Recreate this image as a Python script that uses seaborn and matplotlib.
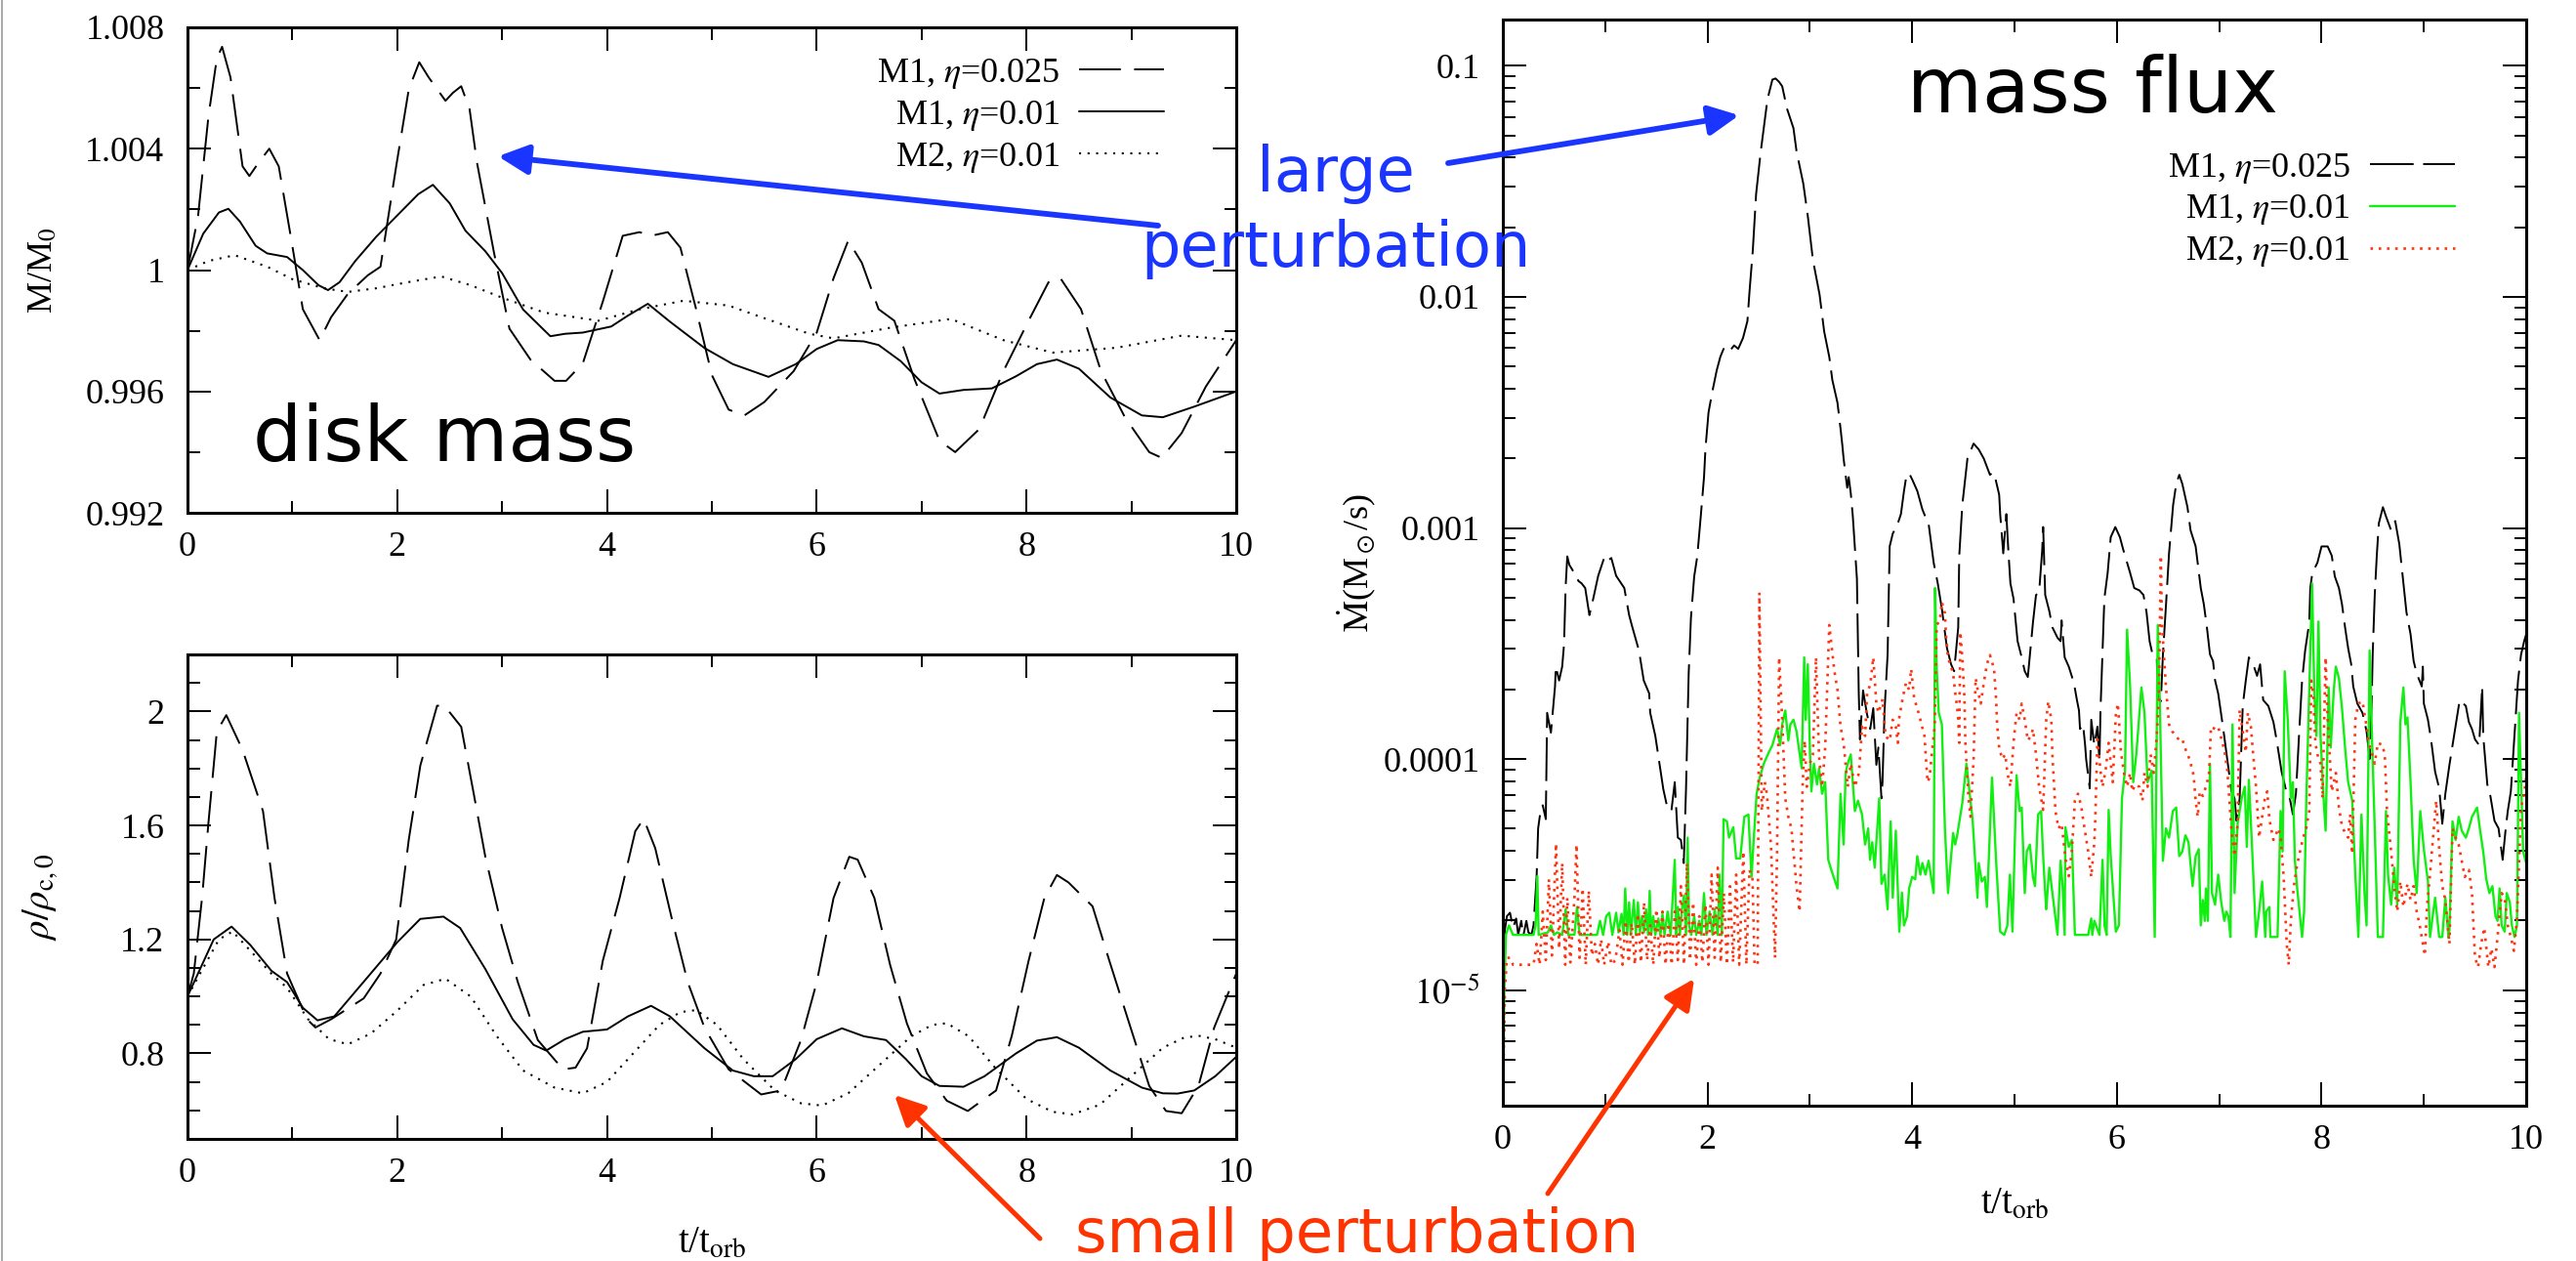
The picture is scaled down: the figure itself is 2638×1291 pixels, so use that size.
import numpy as np
import matplotlib
matplotlib.use("Agg")
import matplotlib.pyplot as plt
import seaborn as sns
from matplotlib.patches import FancyArrowPatch
from matplotlib.lines import Line2D
from matplotlib.ticker import MultipleLocator, FixedLocator, FuncFormatter, LogLocator, NullFormatter

W, H, DPI = 2638, 1291, 100

# ---------------- disk mass M/M0 versus t/t_orb ----------------
mass_m1_025 = [(0.0, 1.0), (0.1, 1.00176), (0.2, 1.00507), (0.28, 1.00698), (0.33, 1.00736), (0.41, 1.00635),
               (0.525, 1.00342), (0.59, 1.0031), (0.68, 1.00355), (0.78, 1.004), (0.87, 1.00342), (0.99, 1.001),
               (1.10, 0.99871), (1.26, 0.99769), (1.37, 0.99845), (1.53, 0.99922), (1.72, 0.99983), (1.84, 1.00011),
               (1.99, 1.00342), (2.11, 1.00596), (2.21, 1.00685), (2.30, 1.00635), (2.46, 1.00558), (2.53, 1.00584),
               (2.61, 1.00606), (2.69, 1.0053), (2.76, 1.00355), (2.92, 1.00062), (3.07, 0.99807), (3.27, 0.99705),
               (3.5, 0.99635), (3.61, 0.99635), (3.77, 0.99693), (3.96, 0.99896), (4.15, 1.00113), (4.31, 1.00125),
               (4.42, 1.00113), (4.58, 1.00125), (4.7, 1.00074), (4.85, 0.99871), (5.0, 0.99654), (5.16, 0.9954),
               (5.31, 0.99521), (5.5, 0.99565), (5.78, 0.99667), (6.0, 0.99794), (6.16, 0.99973), (6.30, 1.00097),
               (6.43, 1.00024), (6.59, 0.99871), (6.74, 0.99833), (6.93, 0.99642), (7.17, 0.99438), (7.32, 0.994),
               (7.55, 0.99476), (7.78, 0.99667), (8.02, 0.99833), (8.21, 0.9996), (8.32, 0.99975), (8.52, 0.99871),
               (8.71, 0.99667), (8.94, 0.99514), (9.17, 0.994), (9.29, 0.99381), (9.48, 0.99463), (9.71, 0.99616),
               (10.0, 0.99769)]
mass_m1_010 = [(0.0, 1.0), (0.15, 1.0012), (0.30, 1.0019), (0.39, 1.00202), (0.5, 1.0016), (0.65, 1.0008),
               (0.76, 1.00055), (0.95, 1.00043), (1.1, 1.0), (1.25, 0.9995), (1.34, 0.99934), (1.45, 0.9996),
               (1.6, 1.0003), (1.8, 1.0011), (2.0, 1.0018), (2.2, 1.0025), (2.34, 1.00281), (2.5, 1.0022),
               (2.65, 1.0013), (2.84, 1.00062), (3.0, 0.9999), (3.2, 0.9987), (3.46, 0.99782), (3.6, 0.9979),
               (3.77, 0.99794), (4.04, 0.99814), (4.2, 0.9985), (4.39, 0.99889), (4.6, 0.9983), (4.93, 0.99743),
               (5.2, 0.9969), (5.54, 0.99648), (5.8, 0.9969), (6.0, 0.9974), (6.2, 0.99769), (6.45, 0.99765),
               (6.59, 0.99753), (6.8, 0.997), (7.0, 0.9963), (7.17, 0.99593), (7.4, 0.99605), (7.67, 0.9961),
               (7.9, 0.9965), (8.1, 0.9969), (8.29, 0.99705), (8.5, 0.99675), (8.8, 0.9958), (9.1, 0.99521),
               (9.3, 0.99515), (9.6, 0.9955), (10.0, 0.996)]
mass_m2_010 = [(0.0, 1.0), (0.2, 1.0003), (0.45, 1.00049), (0.76, 1.00011), (1.0, 0.9997), (1.3, 0.9994),
               (1.53, 0.99928), (1.8, 0.9994), (2.1, 0.9996), (2.42, 0.99979), (2.7, 0.9995), (3.0, 0.99909),
               (3.4, 0.9986), (3.92, 0.99833), (4.3, 0.9987), (4.73, 0.99899), (5.16, 0.99883), (5.47, 0.99845),
               (5.93, 0.9979), (6.16, 0.99775), (6.7, 0.9981), (7.28, 0.99839), (7.78, 0.99769), (8.25, 0.99728),
               (8.86, 0.99744), (9.48, 0.99784), (10.0, 0.99769)]

# ---------------- central density rho/rho_c,0 ----------------
rho_m1_025 = [(0.0, 1.0), (0.06, 1.08), (0.14, 1.35), (0.2, 1.61), (0.28, 1.93), (0.37, 1.987), (0.525, 1.865),
              (0.72, 1.65), (0.83, 1.345), (0.95, 1.08), (1.14, 0.92), (1.22, 0.891), (1.37, 0.92), (1.68, 0.993),
              (1.84, 1.08), (1.99, 1.2), (2.11, 1.55), (2.22, 1.81), (2.38, 2.02), (2.45, 2.02), (2.61, 1.946),
              (2.73, 1.71), (2.84, 1.49), (3.0, 1.24), (3.15, 1.05), (3.34, 0.847), (3.58, 0.744), (3.70, 0.75),
              (3.81, 0.818), (3.96, 1.125), (4.12, 1.345), (4.27, 1.58), (4.35, 1.623), (4.46, 1.52), (4.62, 1.27),
              (4.77, 1.05), (4.93, 0.89), (5.16, 0.744), (5.47, 0.656), (5.66, 0.67), (5.85, 0.847), (6.0, 1.05),
              (6.16, 1.345), (6.31, 1.49), (6.39, 1.48), (6.55, 1.345), (6.70, 1.11), (6.86, 0.905), (7.05, 0.73),
              (7.24, 0.634), (7.44, 0.598), (7.71, 0.67), (7.86, 0.862), (8.02, 1.125), (8.17, 1.345),
              (8.29, 1.426), (8.4, 1.40), (8.63, 1.316), (8.79, 1.125), (8.98, 0.905), (9.17, 0.686), (9.33, 0.598),
              (9.48, 0.59), (9.64, 0.686), (9.79, 0.891), (10.0, 1.08)]
rho_m1_010 = [(0.0, 1.0), (0.1, 1.08), (0.25, 1.2), (0.42, 1.245), (0.6, 1.18), (0.8, 1.09), (0.95, 1.05),
              (1.1, 0.96), (1.24, 0.916), (1.4, 0.93), (1.7, 1.06), (2.0, 1.19), (2.22, 1.272), (2.44, 1.28),
              (2.6, 1.24), (2.84, 1.096), (3.1, 0.92), (3.3, 0.83), (3.42, 0.81), (3.6, 0.85), (3.77, 0.876),
              (4.0, 0.884), (4.2, 0.93), (4.42, 0.967), (4.6, 0.93), (4.93, 0.818), (5.2, 0.74), (5.4, 0.72),
              (5.58, 0.72), (5.8, 0.78), (6.0, 0.85), (6.24, 0.888), (6.45, 0.86), (6.66, 0.847), (6.85, 0.78),
              (7.0, 0.72), (7.17, 0.686), (7.40, 0.683), (7.6, 0.72), (7.9, 0.80), (8.1, 0.845), (8.29, 0.857),
              (8.5, 0.82), (8.8, 0.74), (9.1, 0.68), (9.3, 0.66), (9.44, 0.659), (9.6, 0.67), (9.8, 0.72),
              (10.0, 0.788)]
rho_m2_010 = [(0.0, 1.0), (0.15, 1.1), (0.3, 1.2), (0.43, 1.228), (0.6, 1.16), (0.8, 1.08), (0.95, 1.03),
              (1.15, 0.92), (1.35, 0.85), (1.53, 0.832), (1.75, 0.87), (2.0, 0.95), (2.25, 1.04), (2.46, 1.062),
              (2.7, 1.0), (2.95, 0.86), (3.2, 0.74), (3.5, 0.68), (3.77, 0.66), (4.0, 0.70), (4.25, 0.80),
              (4.5, 0.90), (4.7, 0.945), (4.85, 0.952), (5.05, 0.90), (5.3, 0.78), (5.6, 0.67), (5.85, 0.625),
              (6.05, 0.617), (6.3, 0.66), (6.6, 0.76), (6.9, 0.86), (7.1, 0.90), (7.24, 0.906), (7.45, 0.86),
              (7.7, 0.75), (8.0, 0.64), (8.25, 0.595), (8.44, 0.586), (8.7, 0.62), (9.0, 0.72), (9.3, 0.82),
              (9.5, 0.855), (9.64, 0.862), (9.8, 0.85), (10.0, 0.82)]

# ---------------- mass flux, stored as log10(Mdot / (Msun/s)) ----------------
flux_m1_025 = [(0.0, -5.5), (0.01, -5.0), (0.02, -4.74), (0.04, -4.68), (0.07, -4.665), (0.10, -4.73), (0.13, -4.69),
               (0.15, -4.76), (0.18, -4.70), (0.20, -4.765), (0.23, -4.70), (0.25, -4.75), (0.28, -4.76), (0.30, -4.72),
               (0.33, -4.51), (0.345, -4.30), (0.37, -4.22), (0.39, -4.20), (0.42, -4.26), (0.433, -3.80), (0.47, -3.886),
               (0.51, -3.686), (0.518, -3.60), (0.55, -3.66), (0.58, -3.60), (0.598, -3.504), (0.614, -3.25), (0.63, -3.123),
               (0.65, -3.16), (0.678, -3.18), (0.74, -3.23), (0.77, -3.24), (0.805, -3.26), (0.846, -3.377), (0.884, -3.305),
               (0.932, -3.207), (0.995, -3.123), (1.03, -3.14), (1.06, -3.13), (1.107, -3.207), (1.187, -3.26),
               (1.234, -3.377), (1.266, -3.43), (1.33, -3.53), (1.377, -3.66), (1.43, -3.716), (1.44, -3.80), (1.49, -3.90),
               (1.537, -4.04), (1.568, -4.13), (1.60, -4.195), (1.647, -4.225), (1.68, -4.10), (1.71, -4.34), (1.74, -4.35),
               (1.768, -4.45), (1.79, -4.13), (1.816, -3.63), (1.838, -3.39), (1.87, -3.21), (1.90, -3.123), (1.934, -2.95),
               (1.966, -2.78), (1.98, -2.657), (2.01, -2.50), (2.045, -2.415), (2.09, -2.318), (2.125, -2.26),
               (2.157, -2.225), (2.19, -2.24), (2.22, -2.233), (2.26, -2.21), (2.30, -2.225), (2.347, -2.178),
               (2.39, -2.105), (2.41, -1.98), (2.443, -1.797), (2.475, -1.555), (2.52, -1.372), (2.586, -1.145),
               (2.634, -1.06), (2.665, -1.055), (2.70, -1.07), (2.73, -1.089), (2.777, -1.186), (2.84, -1.27), (2.87, -1.37),
               (2.936, -1.51), (2.98, -1.65), (3.03, -1.84), (3.095, -1.99), (3.14, -2.15), (3.19, -2.26), (3.22, -2.36),
               (3.27, -2.458), (3.30, -2.57), (3.318, -2.644), (3.33, -2.70), (3.365, -2.826), (3.38, -2.78), (3.40, -2.85),
               (3.42, -2.95), (3.46, -3.22), (3.478, -3.716), (3.49, -3.915), (3.52, -3.703), (3.556, -3.80), (3.59, -3.87),
               (3.62, -3.78), (3.65, -4.025), (3.67, -3.95), (3.70, -4.17), (3.71, -4.10), (3.73, -3.79), (3.76, -3.547),
               (3.77, -3.305), (3.78, -3.08), (3.81, -3.025), (3.86, -2.98), (3.89, -2.94), (3.92, -2.84), (3.94, -2.784),
               (3.97, -2.763), (4.00, -2.79), (4.05, -2.84), (4.10, -2.92), (4.13, -2.953), (4.16, -2.98), (4.21, -3.15),
               (4.25, -3.24), (4.29, -3.35), (4.34, -3.52), (4.38, -3.59), (4.41, -3.62), (4.45, -3.43), (4.46, -3.12),
               (4.49, -2.90), (4.54, -2.70), (4.60, -2.635), (4.65, -2.66), (4.70, -2.70), (4.76, -2.77), (4.79, -2.76),
               (4.81, -2.78), (4.85, -2.856), (4.86, -2.94), (4.89, -3.11), (4.92, -2.94), (4.94, -3.10), (4.96, -3.24),
               (4.99, -3.305), (5.03, -3.49), (5.07, -3.56), (5.10, -3.62), (5.13, -3.645), (5.146, -3.57), (5.18, -3.41),
               (5.21, -3.29), (5.24, -3.28), (5.27, -3.10), (5.28, -2.996), (5.29, -3.15), (5.30, -3.29), (5.34, -3.36),
               (5.37, -3.43), (5.42, -3.475), (5.45, -3.49), (5.46, -3.40), (5.49, -3.56), (5.53, -3.60), (5.58, -3.67),
               (5.61, -3.745), (5.63, -3.79), (5.64, -3.87), (5.67, -3.85), (5.69, -3.94), (5.70, -4.00), (5.735, -4.127),
               (5.75, -3.83), (5.78, -3.94), (5.81, -3.86), (5.83, -4.01), (5.84, -3.79), (5.86, -3.53), (5.878, -3.305),
               (5.91, -3.195), (5.94, -3.04), (5.985, -2.996), (6.03, -3.04), (6.06, -3.09), (6.10, -3.15), (6.13, -3.195),
               (6.17, -3.26), (6.22, -3.27), (6.26, -3.29), (6.29, -3.365), (6.32, -3.49), (6.35, -3.55), (6.39, -3.56),
               (6.40, -3.72), (6.43, -3.75), (6.45, -3.55), (6.48, -3.335), (6.51, -3.11), (6.55, -2.90), (6.58, -2.81),
               (6.61, -2.77), (6.64, -2.81), (6.69, -2.91), (6.72, -3.01), (6.77, -3.08), (6.82, -3.26), (6.85, -3.33),
               (6.88, -3.43), (6.91, -3.547), (6.94, -3.576), (6.96, -3.66), (6.99, -3.716), (7.04, -3.87), (7.09, -4.04),
               (7.12, -4.14), (7.15, -4.17), (7.17, -4.267), (7.20, -4.17), (7.23, -3.77), (7.26, -3.66), (7.29, -3.56),
               (7.34, -3.60), (7.37, -3.64), (7.40, -3.59), (7.43, -3.745), (7.48, -3.77), (7.53, -3.84), (7.56, -3.915),
               (7.58, -3.97), (7.61, -4.055), (7.64, -4.11), (7.66, -4.15), (7.69, -4.17), (7.72, -4.24), (7.75, -4.15),
               (7.78, -3.90), (7.81, -3.66), (7.84, -3.53), (7.88, -3.41), (7.89, -3.26), (7.91, -3.195), (7.96, -3.15),
               (8.00, -3.08), (8.06, -3.08), (8.10, -3.12), (8.13, -3.21), (8.17, -3.26), (8.20, -3.33), (8.23, -3.43),
               (8.26, -3.52), (8.29, -3.59), (8.31, -3.686), (8.35, -3.76), (8.40, -3.80), (8.44, -3.88), (8.47, -4.00),
               (8.49, -3.75), (8.50, -3.547), (8.52, -3.29), (8.54, -3.12), (8.56, -2.98), (8.60, -2.91), (8.63, -2.95),
               (8.68, -3.01), (8.72, -2.97), (8.76, -3.07), (8.79, -3.195), (8.83, -3.365), (8.87, -3.46), (8.90, -3.576),
               (8.93, -3.63), (8.98, -3.686), (8.99, -3.60), (9.00, -3.76), (9.04, -3.83), (9.07, -3.915), (9.11, -4.055),
               (9.15, -4.127), (9.18, -4.28), (9.21, -4.15), (9.25, -4.025), (9.31, -3.856), (9.35, -3.745), (9.41, -3.77),
               (9.44, -3.84), (9.47, -3.87), (9.50, -3.915), (9.54, -3.94), (9.57, -3.686), (9.58, -3.90), (9.62, -4.11),
               (9.65, -4.16), (9.69, -4.267), (9.73, -4.30), (9.77, -4.436), (9.80, -4.30), (9.82, -4.225), (9.85, -4.14),
               (9.92, -3.66), (9.95, -3.547), (9.98, -3.49), (10.0, -3.46)]
flux_m1_010 = [(0.0, -5.5), (0.015, -5.0), (0.03, -4.76), (0.06, -4.72), (0.10, -4.761), (0.20, -4.761), (0.30, -4.761),
               (0.32, -4.72), (0.337, -4.507), (0.35, -4.761), (0.44, -4.75), (0.47, -4.72), (0.50, -4.761), (0.53, -4.75),
               (0.58, -4.761), (0.614, -4.65), (0.64, -4.761), (0.70, -4.76), (0.725, -4.64), (0.75, -4.761), (0.85, -4.761),
               (0.92, -4.761), (0.95, -4.70), (0.98, -4.761), (1.01, -4.68), (1.04, -4.665), (1.07, -4.761), (1.107, -4.665),
               (1.13, -4.75), (1.16, -4.67), (1.18, -4.761), (1.196, -4.56), (1.215, -4.761), (1.234, -4.62), (1.25, -4.761),
               (1.28, -4.61), (1.30, -4.761), (1.32, -4.62), (1.34, -4.75), (1.36, -4.68), (1.38, -4.75), (1.40, -4.65),
               (1.42, -4.761), (1.435, -4.57), (1.45, -4.761), (1.47, -4.68), (1.49, -4.761), (1.52, -4.69), (1.54, -4.761),
               (1.56, -4.67), (1.58, -4.761), (1.61, -4.66), (1.64, -4.761), (1.68, -4.436), (1.695, -4.761), (1.71, -4.64),
               (1.73, -4.761), (1.75, -4.65), (1.77, -4.59), (1.79, -4.761), (1.806, -4.34), (1.82, -4.72), (1.84, -4.761),
               (1.87, -4.68), (1.89, -4.761), (1.92, -4.70), (1.94, -4.761), (1.966, -4.58), (1.99, -4.761), (2.02, -4.66),
               (2.05, -4.761), (2.07, -4.65), (2.10, -4.761), (2.118, -4.50), (2.14, -4.761), (2.157, -4.26), (2.19, -4.27),
               (2.21, -4.34), (2.252, -4.295), (2.28, -4.43), (2.32, -4.43), (2.36, -4.25), (2.40, -4.24), (2.43, -4.51),
               (2.45, -4.36), (2.48, -4.15), (2.51, -4.08), (2.55, -4.02), (2.60, -3.97), (2.634, -3.94), (2.68, -3.87),
               (2.71, -3.94), (2.73, -3.85), (2.76, -3.79), (2.79, -3.92), (2.81, -3.85), (2.84, -3.83), (2.87, -3.88),
               (2.92, -4.04), (2.945, -3.56), (2.96, -3.83), (2.98, -3.59), (3.00, -3.95), (3.015, -4.14), (3.04, -4.02),
               (3.07, -4.11), (3.09, -4.04), (3.12, -4.15), (3.15, -4.10), (3.18, -4.436), (3.21, -4.48), (3.24, -4.52),
               (3.27, -4.56), (3.30, -4.15), (3.33, -4.37), (3.35, -4.06), (3.37, -4.02), (3.40, -3.98), (3.42, -4.10),
               (3.44, -4.225), (3.47, -4.18), (3.51, -4.24), (3.54, -4.37), (3.57, -4.30), (3.588, -4.436), (3.61, -4.36),
               (3.634, -4.47), (3.678, -4.17), (3.70, -4.54), (3.73, -4.50), (3.76, -4.65), (3.77, -4.50), (3.79, -4.27),
               (3.81, -4.60), (3.84, -4.31), (3.874, -4.747), (3.90, -4.578), (3.92, -4.72), (3.95, -4.68), (3.97, -4.56),
               (4.00, -4.51), (4.03, -4.52), (4.05, -4.42), (4.08, -4.50), (4.10, -4.45), (4.13, -4.50), (4.16, -4.44),
               (4.21, -4.58), (4.224, -3.26), (4.24, -3.61), (4.26, -3.80), (4.29, -3.85), (4.32, -4.30), (4.35, -4.58),
               (4.40, -4.32), (4.42, -4.37), (4.44, -4.33), (4.49, -4.19), (4.53, -4.02), (4.56, -4.14), (4.59, -4.26),
               (4.638, -4.60), (4.65, -4.45), (4.68, -4.53), (4.71, -4.51), (4.73, -4.64), (4.78, -4.08), (4.82, -4.44),
               (4.86, -4.747), (4.90, -4.761), (4.93, -4.72), (4.955, -4.50), (4.98, -4.747), (5.02, -4.07), (5.05, -4.225),
               (5.07, -4.21), (5.10, -4.58), (5.12, -4.40), (5.15, -4.37), (5.18, -4.51), (5.20, -4.55), (5.23, -4.24),
               (5.26, -4.225), (5.28, -4.42), (5.30, -4.58), (5.31, -4.65), (5.34, -4.47), (5.42, -4.76), (5.45, -4.44),
               (5.47, -4.55), (5.49, -4.761), (5.497, -4.295), (5.53, -4.38), (5.56, -4.35), (5.59, -4.761), (5.65, -4.761),
               (5.72, -4.761), (5.75, -4.69), (5.76, -4.761), (5.78, -4.70), (5.83, -4.761), (5.86, -4.436), (5.88, -4.72),
               (5.90, -4.761), (5.92, -4.22), (5.94, -4.42), (5.99, -4.747), (6.02, -4.72), (6.05, -4.17), (6.08, -4.05),
               (6.10, -3.44), (6.13, -3.69), (6.16, -4.10), (6.19, -3.98), (6.24, -3.69), (6.27, -3.80), (6.30, -4.10),
               (6.34, -4.05), (6.37, -4.77), (6.40, -3.42), (6.42, -3.76), (6.45, -4.44), (6.48, -4.30), (6.51, -4.34),
               (6.547, -4.225), (6.58, -4.21), (6.61, -4.42), (6.64, -4.40), (6.67, -4.33), (6.70, -4.36), (6.74, -4.55),
               (6.77, -4.42), (6.80, -4.39), (6.82, -4.72), (6.84, -4.61), (6.86, -4.70), (6.87, -4.56), (6.89, -4.70),
               (6.91, -4.02), (6.93, -4.58), (6.96, -4.63), (6.99, -4.50), (7.02, -4.62), (7.05, -4.70), (7.07, -4.66),
               (7.09, -4.68), (7.11, -4.77), (7.13, -3.85), (7.15, -4.58), (7.18, -4.28), (7.22, -4.17), (7.25, -4.12),
               (7.27, -4.38), (7.29, -4.09), (7.32, -4.37), (7.36, -4.77), (7.39, -4.66), (7.42, -4.53), (7.45, -4.77),
               (7.46, -4.66), (7.49, -4.64), (7.50, -4.77), (7.57, -4.77), (7.60, -4.225), (7.62, -4.40), (7.64, -3.62),
               (7.67, -3.83), (7.70, -4.17), (7.72, -4.10), (7.74, -4.44), (7.76, -4.55), (7.79, -4.68), (7.81, -4.77),
               (7.83, -4.66), (7.85, -4.20), (7.88, -3.70), (7.908, -3.24), (7.93, -3.72), (7.95, -3.90), (7.97, -3.405),
               (7.99, -3.90), (8.02, -4.17), (8.04, -4.31), (8.07, -3.69), (8.09, -3.95), (8.12, -3.70), (8.14, -3.60),
               (8.17, -3.65), (8.20, -3.78), (8.23, -3.95), (8.26, -4.10), (8.30, -4.18), (8.33, -4.50), (8.36, -4.77),
               (8.39, -4.24), (8.42, -4.58), (8.44, -4.72), (8.47, -3.53), (8.49, -3.86), (8.52, -4.30), (8.55, -4.77),
               (8.60, -4.77), (8.63, -4.225), (8.65, -4.50), (8.68, -4.63), (8.71, -4.47), (8.74, -4.63), (8.77, -3.84),
               (8.80, -3.69), (8.82, -3.85), (8.84, -3.82), (8.87, -4.10), (8.90, -4.436), (8.93, -4.58), (8.965, -4.225),
               (9.00, -4.39), (9.04, -4.53), (9.06, -4.77), (9.11, -4.60), (9.15, -4.77), (9.18, -4.77), (9.21, -4.60),
               (9.24, -4.77), (9.25, -4.74), (9.28, -4.27), (9.31, -4.35), (9.34, -4.25), (9.37, -4.31), (9.41, -4.34),
               (9.44, -4.30), (9.47, -4.25), (9.52, -4.21), (9.55, -4.31), (9.58, -4.40), (9.61, -4.52), (9.64, -4.58),
               (9.67, -4.55), (9.70, -4.68), (9.72, -4.70), (9.74, -4.56), (9.76, -4.72), (9.79, -4.747), (9.81, -4.58),
               (9.84, -4.62), (9.86, -4.72), (9.886, -4.77), (9.91, -4.72), (9.93, -3.80), (9.95, -4.10), (9.97, -4.40),
               (10.0, -4.45)]
flux_m2_010 = [(0.0, -5.5), (0.02, -5.0), (0.04, -4.86), (0.07, -4.86), (0.10, -4.89), (0.20, -4.89), (0.30, -4.89),
               (0.33, -4.80), (0.36, -4.89), (0.39, -4.66), (0.42, -4.87), (0.45, -4.52), (0.48, -4.85), (0.52, -4.366),
               (0.55, -4.82), (0.58, -4.45), (0.61, -4.89), (0.63, -4.60), (0.66, -4.88), (0.70, -4.60), (0.72, -4.37),
               (0.75, -4.86), (0.78, -4.56), (0.81, -4.89), (0.84, -4.57), (0.87, -4.85), (0.90, -4.80), (0.93, -4.89),
               (0.96, -4.78), (0.99, -4.89), (1.03, -4.79), (1.06, -4.89), (1.10, -4.87), (1.14, -4.74), (1.17, -4.89),
               (1.20, -4.70), (1.23, -4.88), (1.26, -4.71), (1.29, -4.89), (1.32, -4.67), (1.35, -4.88), (1.38, -4.62),
               (1.41, -4.87), (1.44, -4.72), (1.47, -4.89), (1.50, -4.65), (1.53, -4.86), (1.56, -4.66), (1.59, -4.89),
               (1.62, -4.71), (1.65, -4.89), (1.68, -4.66), (1.71, -4.87), (1.74, -4.55), (1.77, -4.89), (1.80, -4.45),
               (1.83, -4.87), (1.86, -4.62), (1.89, -4.89), (1.92, -4.68), (1.95, -4.88), (1.98, -4.63), (2.01, -4.89),
               (2.04, -4.50), (2.07, -4.86), (2.10, -4.47), (2.13, -4.88), (2.16, -4.58), (2.19, -4.89), (2.22, -4.55),
               (2.25, -4.88), (2.28, -4.50), (2.31, -4.89), (2.35, -4.40), (2.38, -4.89), (2.41, -4.48), (2.44, -4.52),
               (2.46, -4.89), (2.49, -4.89), (2.507, -3.28), (2.53, -4.225), (2.56, -4.10), (2.58, -4.15), (2.62, -4.37),
               (2.66, -4.86), (2.68, -4.40), (2.70, -3.56), (2.73, -3.83), (2.76, -4.17), (2.79, -4.25), (2.82, -4.30),
               (2.85, -4.45), (2.87, -4.55), (2.90, -4.66), (2.92, -4.30), (2.93, -4.11), (2.95, -3.92), (2.97, -4.12),
               (3.00, -4.02), (3.03, -3.98), (3.06, -3.56), (3.09, -3.99), (3.12, -4.12), (3.15, -3.95), (3.19, -3.42),
               (3.21, -3.50), (3.24, -3.62), (3.27, -3.70), (3.30, -3.86), (3.33, -3.93), (3.37, -4.12), (3.40, -4.02),
               (3.44, -4.12), (3.48, -4.06), (3.51, -3.86), (3.54, -3.90), (3.56, -3.71), (3.59, -3.68), (3.62, -3.56),
               (3.65, -3.76), (3.67, -3.80), (3.70, -3.76), (3.71, -3.74), (3.74, -3.90), (3.78, -3.92), (3.81, -3.83),
               (3.84, -3.86), (3.86, -3.93), (3.87, -3.83), (3.91, -3.73), (3.94, -3.67), (3.97, -3.70), (3.99, -3.61),
               (4.02, -3.74), (4.05, -3.78), (4.08, -3.83), (4.12, -3.90), (4.15, -4.10), (4.17, -4.08), (4.20, -3.94),
               (4.22, -3.86), (4.24, -3.42), (4.27, -3.40), (4.29, -3.32), (4.32, -3.37), (4.33, -3.46), (4.35, -3.56),
               (4.40, -3.63), (4.42, -3.71), (4.44, -3.78), (4.45, -3.83), (4.46, -3.93), (4.47, -3.45), (4.49, -3.56),
               (4.51, -3.73), (4.52, -3.93), (4.55, -4.17), (4.57, -4.25), (4.60, -4.00), (4.62, -3.65), (4.64, -3.70),
               (4.67, -3.76), (4.70, -3.67), (4.73, -3.59), (4.76, -3.55), (4.80, -3.61), (4.82, -3.74), (4.83, -3.85),
               (4.85, -3.95), (4.88, -4.00), (4.91, -3.98), (4.93, -4.06), (4.96, -4.12), (4.99, -3.93), (5.02, -3.80),
               (5.05, -3.83), (5.07, -3.76), (5.10, -3.83), (5.13, -3.92), (5.16, -3.90), (5.18, -3.87), (5.21, -3.98),
               (5.24, -4.12), (5.28, -4.22), (5.31, -3.83), (5.33, -3.75), (5.36, -3.83), (5.37, -3.98), (5.40, -4.225),
               (5.43, -4.30), (5.46, -4.28), (5.50, -4.436), (5.53, -4.507), (5.56, -4.40), (5.59, -4.18), (5.62, -4.15),
               (5.65, -4.20), (5.67, -4.26), (5.72, -4.40), (5.75, -4.51), (5.78, -4.36), (5.79, -4.25), (5.81, -3.915),
               (5.84, -4.05), (5.86, -4.12), (5.89, -4.05), (5.92, -3.93), (5.96, -4.10), (5.99, -3.81), (6.01, -3.76),
               (6.04, -3.97), (6.07, -4.06), (6.10, -4.12), (6.13, -4.06), (6.15, -4.14), (6.18, -4.11), (6.22, -4.12),
               (6.25, -4.18), (6.27, -4.06), (6.30, -4.12), (6.33, -3.98), (6.36, -4.06), (6.39, -3.90), (6.41, -3.75),
               (6.43, -3.12), (6.44, -3.41), (6.46, -3.55), (6.48, -3.69), (6.50, -3.80), (6.51, -3.85), (6.54, -3.88),
               (6.58, -3.90), (6.61, -3.92), (6.64, -3.915), (6.68, -3.97), (6.71, -4.00), (6.75, -4.07), (6.77, -4.18),
               (6.79, -4.25), (6.81, -4.14), (6.84, -4.16), (6.87, -4.12), (6.90, -4.07), (6.92, -3.86), (6.96, -3.87),
               (6.99, -3.86), (7.02, -3.91), (7.05, -3.96), (7.08, -4.05), (7.12, -4.31), (7.15, -4.42), (7.18, -4.28),
               (7.20, -3.787), (7.23, -3.88), (7.26, -3.97), (7.28, -3.80), (7.31, -3.86), (7.33, -3.97), (7.36, -4.12),
               (7.39, -4.34), (7.42, -4.25), (7.45, -4.16), (7.47, -4.14), (7.49, -4.26), (7.53, -4.35), (7.58, -4.30),
               (7.60, -4.34), (7.63, -4.51), (7.66, -4.80), (7.68, -4.89), (7.70, -4.70), (7.73, -4.55), (7.76, -4.46),
               (7.79, -4.40), (7.82, -4.34), (7.85, -4.30), (7.88, -4.225), (7.90, -3.66), (7.92, -3.72), (7.94, -3.93),
               (7.96, -3.98), (7.99, -4.02), (8.01, -4.17), (8.04, -3.56), (8.06, -3.83), (8.10, -4.14), (8.14, -4.06),
               (8.17, -4.21), (8.20, -4.29), (8.23, -4.32), (8.26, -4.34), (8.28, -4.24), (8.30, -4.41), (8.33, -3.83),
               (8.36, -3.76), (8.40, -3.75), (8.43, -3.83), (8.46, -3.93), (8.49, -3.97), (8.52, -4.02), (8.55, -3.93),
               (8.60, -3.94), (8.62, -4.00), (8.64, -4.225), (8.68, -4.40), (8.71, -4.55), (8.74, -4.66), (8.77, -4.53),
               (8.80, -4.64), (8.84, -4.54), (8.87, -4.61), (8.90, -4.55), (8.93, -4.66), (8.96, -4.72), (8.99, -4.80),
               (9.01, -4.85), (9.03, -4.64), (9.06, -4.50), (9.09, -4.34), (9.12, -4.18), (9.15, -4.39), (9.18, -4.55),
               (9.21, -4.61), (9.25, -4.80), (9.28, -4.30), (9.31, -4.34), (9.34, -4.37), (9.37, -4.44), (9.40, -4.51),
               (9.44, -4.48), (9.47, -4.58), (9.50, -4.86), (9.53, -4.90), (9.56, -4.80), (9.59, -4.73), (9.63, -4.90),
               (9.66, -4.82), (9.69, -4.90), (9.72, -4.77), (9.76, -4.58), (9.79, -4.60), (9.82, -4.72), (9.85, -4.77),
               (9.88, -4.83), (9.91, -4.69), (9.95, -4.21), (9.98, -4.15), (10.0, -4.08)]

legend_labels = [r"M1, $\eta$=0.025", r"M1, $\eta$=0.01", r"M2, $\eta$=0.01"]
flux_tick_labels = {-5: r"$10^{-5}$", -4: "0.0001", -3: "0.001", -2: "0.01", -1: "0.1"}

# ---------------- styling ----------------
sns.set_theme(style="ticks")
plt.rcParams["font.family"] = ["Liberation Serif", "DejaVu Serif"]
plt.rcParams["mathtext.fontset"] = "stix"
plt.rcParams["axes.unicode_minus"] = False
plt.rcParams["text.color"] = "black"
plt.rcParams["axes.labelcolor"] = "black"
plt.rcParams["xtick.color"] = "black"
plt.rcParams["ytick.color"] = "black"
plt.rcParams["axes.edgecolor"] = "black"

BLACK = "black"
GREEN = "#12ee12"
RED = "#ff3311"
BLUE = "#1a35ff"
ORANGE_RED = "#ff3300"

DASH_L = (0, (22, 7))
DOT_L = (0, (1, 3.2))
DASH_R = (0, (23, 5))
DOT_R = (0, (1, 2.2))

fig = plt.figure(figsize=(W / DPI, H / DPI), dpi=DPI)


def box(l, t, r, b):
    return [l / W, 1 - b / H, (r - l) / W, (b - t) / H]


def fx(x):
    return x / W


def fy(y):
    return 1 - y / H


ax_m = fig.add_axes(box(192, 28, 1266, 525))
ax_r = fig.add_axes(box(192, 670, 1266, 1166))
ax_f = fig.add_axes(box(1539, 20, 2587, 1132))


def draw(ax, pairs, label, color, ls, lw, log=False):
    arr = np.array(pairs)
    y = 10 ** arr[:, 1] if log else arr[:, 1]
    sns.lineplot(x=arr[:, 0], y=y, ax=ax, color=color, linestyle=ls, lw=lw,
                 estimator=None, sort=False, label=label, legend=False)


draw(ax_m, mass_m1_025, legend_labels[0], BLACK, DASH_L, 1.4)
draw(ax_m, mass_m1_010, legend_labels[1], BLACK, "-", 1.4)
draw(ax_m, mass_m2_010, legend_labels[2], BLACK, DOT_L, 1.5)

draw(ax_r, rho_m1_025, legend_labels[0], BLACK, DASH_L, 1.4)
draw(ax_r, rho_m1_010, legend_labels[1], BLACK, "-", 1.4)
draw(ax_r, rho_m2_010, legend_labels[2], BLACK, DOT_L, 1.5)

draw(ax_f, flux_m1_025, legend_labels[0], BLACK, DASH_R, 1.4, log=True)
draw(ax_f, flux_m1_010, legend_labels[1], GREEN, "-", 1.7, log=True)
draw(ax_f, flux_m2_010, legend_labels[2], RED, DOT_R, 1.9, log=True)


def frame(ax):
    for s in ax.spines.values():
        s.set_visible(True)
        s.set_linewidth(2.2)
        s.set_color(BLACK)
    ax.set_xlim(0, 10)
    ax.xaxis.set_major_locator(MultipleLocator(2))
    ax.xaxis.set_minor_locator(MultipleLocator(1))
    ax.xaxis.set_major_formatter(FuncFormatter(lambda v, p: f"{v:g}"))
    ax.tick_params(which="both", direction="in", top=True, right=True, color=BLACK,
                   labelcolor=BLACK, labelsize=26, width=1.4)
    ax.tick_params(which="major", length=17)
    ax.tick_params(which="minor", length=9)
    ax.tick_params(axis="y", which="major", pad=17)
    ax.tick_params(axis="x", which="major", pad=14)
    ax.set_xlabel("")
    ax.set_ylabel("")


for a in (ax_m, ax_r, ax_f):
    frame(a)

ax_m.set_ylim(0.992, 1.008)
ax_m.yaxis.set_major_locator(FixedLocator([0.992, 0.996, 1.0, 1.004, 1.008]))
ax_m.yaxis.set_minor_locator(FixedLocator([0.994, 0.998, 1.002, 1.006]))
ax_m.yaxis.set_major_formatter(FuncFormatter(lambda v, p: f"{round(v, 4):g}"))
ax_m.set_ylabel(r"M/M$_0$", fontsize=26, color=BLACK)
ax_m.yaxis.set_label_coords(-0.122, 0.5)

ax_r.set_ylim(0.5, 2.2)
ax_r.yaxis.set_major_locator(FixedLocator([0.8, 1.2, 1.6, 2.0]))
ax_r.yaxis.set_minor_locator(MultipleLocator(0.1))
ax_r.yaxis.set_major_formatter(FuncFormatter(lambda v, p: f"{round(v, 2):g}"))
ax_r.set_ylabel(r"$\rho/\rho_{\rm c,0}$", fontsize=28, color=BLACK)
ax_r.yaxis.set_label_coords(-0.122, 0.5)
ax_r.set_xlabel(r"t/t$_{\rm orb}$", fontsize=28, color=BLACK)
ax_r.xaxis.set_label_coords(0.5, -0.18)

ax_f.set_yscale("log")
ax_f.set_ylim(10 ** -5.5, 10 ** -0.8)
ax_f.yaxis.set_major_locator(LogLocator(base=10, numticks=12))
ax_f.yaxis.set_minor_locator(LogLocator(base=10, subs=np.arange(2, 10), numticks=12))
ax_f.yaxis.set_minor_formatter(NullFormatter())
ax_f.yaxis.set_major_formatter(FuncFormatter(lambda v, p: flux_tick_labels.get(int(round(np.log10(v))), "")))
ax_f.tick_params(axis="y", which="major", pad=17)
ax_f.set_ylabel(r"$\dot{\rm M}$(M$_\odot$/s)", fontsize=26, color=BLACK)
ax_f.yaxis.set_label_coords(-0.122, 0.5)
ax_f.set_xlabel(r"t/t$_{\rm orb}$", fontsize=28, color=BLACK)
ax_f.xaxis.set_label_coords(0.5, -0.075)

leg_kw = dict(loc="upper right", frameon=False, markerfirst=False, fontsize=26, handlelength=2.4,
              handletextpad=0.55, labelspacing=0.22, borderaxespad=0, borderpad=0, labelcolor=BLACK)
ax_m.legend(bbox_to_anchor=(0.931, 0.94), **leg_kw)
ax_f.legend(bbox_to_anchor=(0.930, 0.879), **leg_kw)

# panel titles and annotations
fig.text(fx(259), fy(472), "disk mass", fontsize=57, family="DejaVu Sans", color=BLACK, va="baseline", ha="left")
fig.text(fx(1953), fy(115), "mass flux", fontsize=57, family="DejaVu Sans", color=BLACK, va="baseline", ha="left")
fig.text(fx(1368), fy(196), "large", fontsize=46, family="DejaVu Sans", color=BLUE, va="baseline", ha="center")
fig.text(fx(1368), fy(273), "perturbation", fontsize=46, family="DejaVu Sans", color=BLUE, va="baseline", ha="center")
fig.text(fx(1390), fy(1282), "small perturbation", fontsize=45, family="DejaVu Sans", color=ORANGE_RED,
         va="baseline", ha="center")


def arrow(p0, p1, color, lw):
    fig.add_artist(FancyArrowPatch((fx(p0[0]), fy(p0[1])), (fx(p1[0]), fy(p1[1])), transform=fig.transFigure,
                                   arrowstyle="-|>,head_length=0.55,head_width=0.27", mutation_scale=34,
                                   color=color, lw=lw, shrinkA=0, shrinkB=0))


arrow((1186, 231), (510, 160), BLUE, 4.2)
arrow((1483, 167), (1781, 118), BLUE, 4.2)
arrow((1065, 1268), (916, 1121), ORANGE_RED, 3.6)
arrow((1585, 1222), (1735, 1002), ORANGE_RED, 3.6)

fig.add_artist(Line2D([1.5 / W, 1.5 / W], [0, 1], transform=fig.transFigure, color="#9a9a9a", lw=1.2))

fig.savefig("out.png", dpi=DPI)
